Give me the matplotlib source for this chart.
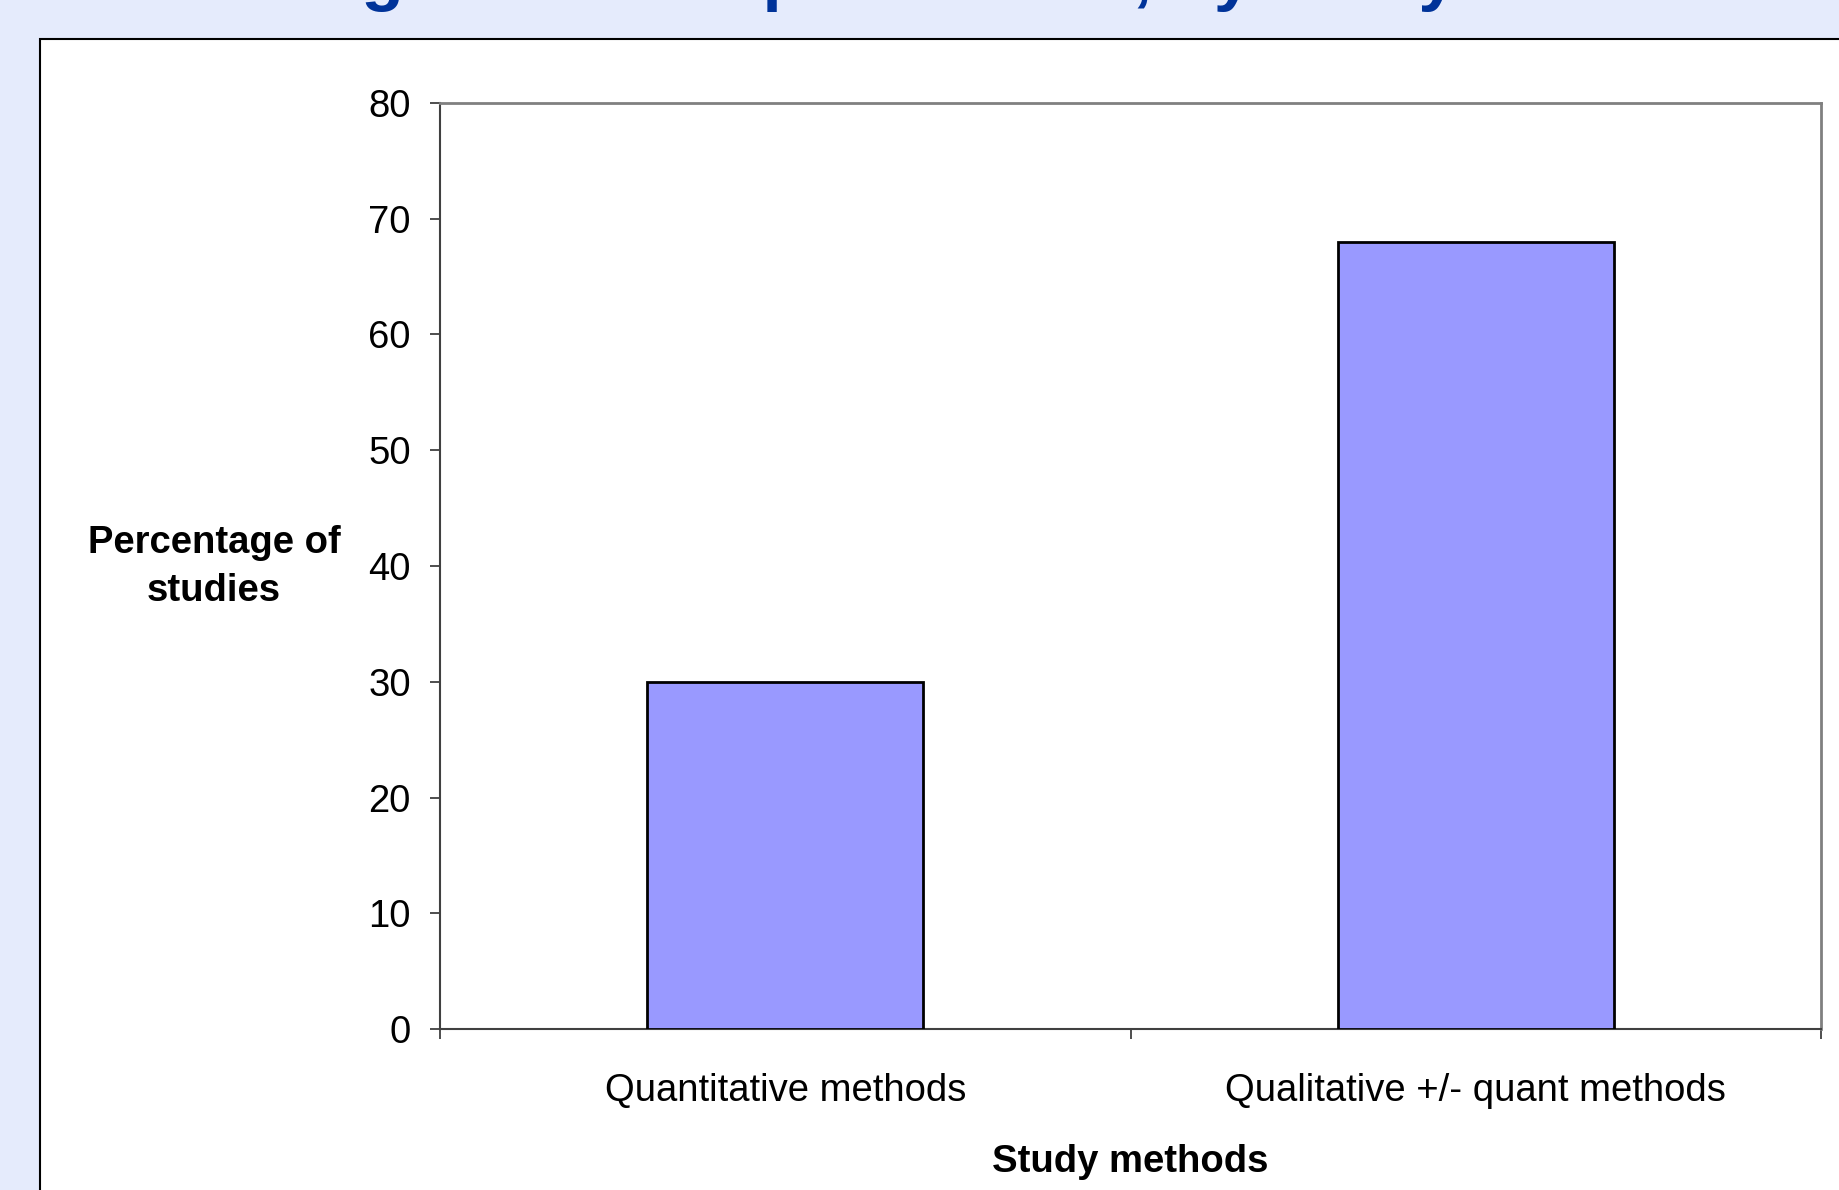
import matplotlib.pyplot as plt
from matplotlib.patches import Rectangle

categories = ['Quantitative methods', 'Qualitative +/- quant methods']
values = [30, 68]
yticks = [0, 10, 20, 30, 40, 50, 60, 70, 80]

plt.rcParams['font.family'] = ['Liberation Sans', 'DejaVu Sans']

fig = plt.figure(figsize=(18.39, 11.90), dpi=100)
fig.patch.set_facecolor('#e5ebfc')

# slide title, mostly cut off at the top
fig.text(-110 / 1839, 1 + 2 / 1190, 'Research designs in each publication, by study area',
         fontsize=50, fontweight='bold', color='#003399', ha='left', va='baseline')

# white chart panel
panel = Rectangle((40 / 1839, -0.1), 1.2, 1 - 39 / 1190 + 0.1, transform=fig.transFigure,
                  facecolor='white', edgecolor='black', linewidth=1.5, zorder=0)
fig.patches.append(panel)

ax = fig.add_axes([440 / 1839, 1 - 1029 / 1190, (1821 - 440) / 1839, (1029 - 103) / 1190])
ax.set_zorder(2)
ax.set_facecolor('white')
x = list(range(len(categories)))
ax.bar(x, values, width=0.4, color='#9999ff', edgecolor='black', linewidth=2, zorder=3)

ax.set_xlim(-0.5, 1.5)
ax.set_ylim(0, 80)
ax.set_yticks(yticks)
ax.set_yticklabels([str(v) for v in yticks], fontsize=27.5)
ax.tick_params(axis='y', length=7, width=1.3, color='#404040', pad=14)

ax.set_xticks([-0.5, 0.5, 1.5])
ax.set_xticklabels([])
ax.tick_params(axis='x', which='major', length=7, width=1.3, color='#404040')
ax.set_xticks(x, minor=True)
ax.set_xticklabels(categories, minor=True, fontsize=27.5)
ax.tick_params(axis='x', which='minor', length=0, pad=31.5)

for s in ['top', 'right']:
    ax.spines[s].set_color('#808080')
    ax.spines[s].set_linewidth(2)
for s in ['left', 'bottom']:
    ax.spines[s].set_color('#404040')
    ax.spines[s].set_linewidth(1.5)

fig.text((440 + 1821) / 2 / 1839, 1 - 1162 / 1190, 'Study methods', fontsize=27.5,
         fontweight='bold', ha='center', va='center')
fig.text(214 / 1839, 1 - 567 / 1190, 'Percentage of\nstudies', fontsize=27.5,
         fontweight='bold', ha='center', va='center', linespacing=1.45)

fig.savefig('out.png', dpi=100, facecolor=fig.get_facecolor())
